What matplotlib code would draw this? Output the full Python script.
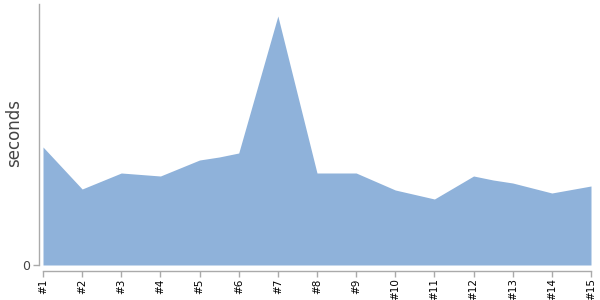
import matplotlib
matplotlib.use("Agg")
import matplotlib.pyplot as plt

# sample positions (tick index, 0 = "#1"), a few extra points between ticks
x_pos = [0, 1, 2, 3, 4, 4.5, 5, 6, 7, 8, 9, 10, 11, 11.5, 12, 13, 14]
seconds = [11.8, 7.6, 9.2, 8.9, 10.5, 10.8, 11.2, 24.9, 9.2, 9.2, 7.5, 6.6, 8.9, 8.5, 8.2, 7.2, 7.9]
tick_labels = ["#%d" % i for i in range(1, 16)]

fig = plt.figure(figsize=(6, 3), dpi=100)
ax = fig.add_axes([43 / 600, 35 / 300, 548 / 600, 261 / 300])

ax.fill_between(x_pos, seconds, 0, color="#8fb2da", linewidth=0)

ax.set_xlim(0, 14)
ax.set_ylim(0, 26.1)

for side in ["top", "right"]:
    ax.spines[side].set_visible(False)
ax.spines["left"].set_position(("outward", 3))
ax.spines["bottom"].set_position(("outward", 4))
for side in ["left", "bottom"]:
    ax.spines[side].set_color("#aaaaaa")
    ax.spines[side].set_linewidth(1)
ax.tick_params(axis="both", colors="#aaaaaa", length=4, width=1, pad=2)
ax.tick_params(axis="x", labelrotation=90, labelsize=7.5, labelcolor="black", pad=1.5)
ax.tick_params(axis="y", labelsize=9, labelcolor="#444444")

ax.set_xticks(range(15))
ax.set_xticklabels(tick_labels)
ax.set_yticks([0])
ax.set_yticklabels(["0"])

ax.set_ylabel("seconds", fontsize=12, color="#444444")
ax.yaxis.set_label_coords(-0.036, 0.506)

fig.savefig("out.png", dpi=100)
